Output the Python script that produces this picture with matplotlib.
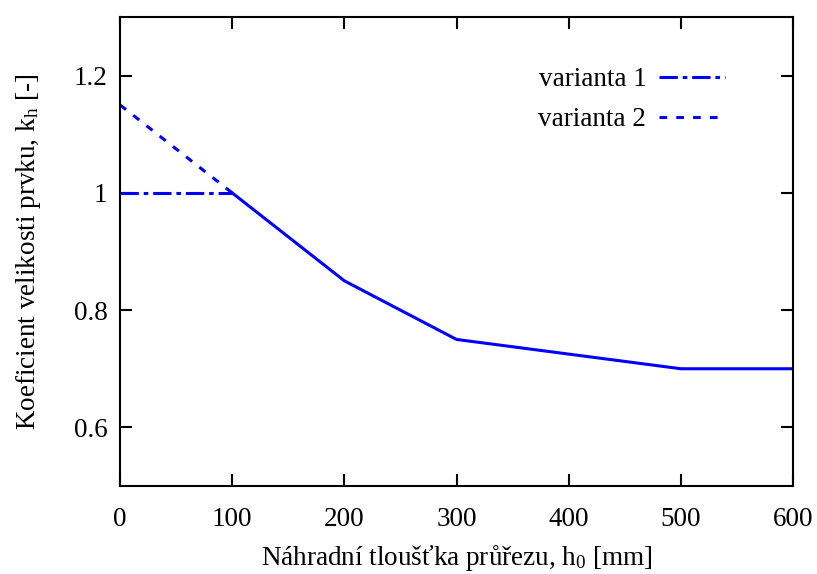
import matplotlib
matplotlib.use("Agg")
import matplotlib.pyplot as plt

# data
x_var1 = [0, 100]
y_var1 = [1.0, 1.0]
x_var2 = [0, 100]
y_var2 = [1.15, 1.0]
x_common = [100, 200, 300, 500, 600]
y_common = [1.0, 0.85, 0.75, 0.7, 0.7]

x_ticks = [0, 100, 200, 300, 400, 500, 600]
y_ticks = [0.6, 0.8, 1.0, 1.2]
y_tick_labels = ["0.6", "0.8", "1", "1.2"]

plt.rcParams["font.family"] = ["Liberation Serif", "DejaVu Serif"]
plt.rcParams["mathtext.fontset"] = "custom"
plt.rcParams["mathtext.rm"] = "Liberation Serif"

fs = 19.5
fig = plt.figure(figsize=(8.17, 5.74), dpi=100)
ax = fig.add_axes([120 / 817, 1 - 486 / 574, (793 - 120) / 817, (486 - 17) / 574])

blue = "#0000ff"
lw = 2.2
ax.plot(x_var1, y_var1, color=blue, lw=lw, dashes=(6, 1.6, 1.5, 1.6), label="varianta 1")
ax.plot(x_var2, y_var2, color=blue, lw=lw, dashes=(2.5, 3), label="varianta 2")
ax.plot(x_common, y_common, color=blue, lw=lw)

ax.set_xlim(0, 600)
ax.set_ylim(0.5, 1.3)
ax.set_xticks(x_ticks)
ax.set_yticks(y_ticks)
ax.set_yticklabels(y_tick_labels)
ax.tick_params(direction="in", length=8.5, width=1.5, top=True, right=True, labelsize=fs)
ax.tick_params(axis="x", pad=15)
ax.tick_params(axis="y", pad=9)
for s in ax.spines.values():
    s.set_linewidth(1.5)

ax.set_xlabel(r"Náhradní tloušťka průřezu, h$\mathregular{_0}$ [mm]", fontsize=fs, labelpad=8)
ax.set_ylabel(r"Koeficient velikosti prvku, k$\mathregular{_h}$ [-]", fontsize=fs, labelpad=22)

ax.legend(loc="upper right", bbox_to_anchor=(0.935, 0.945), frameon=False, fontsize=fs,
          markerfirst=False, handlelength=2.45, handletextpad=0.45, labelspacing=0.55)

fig.savefig("out.png", dpi=100)
